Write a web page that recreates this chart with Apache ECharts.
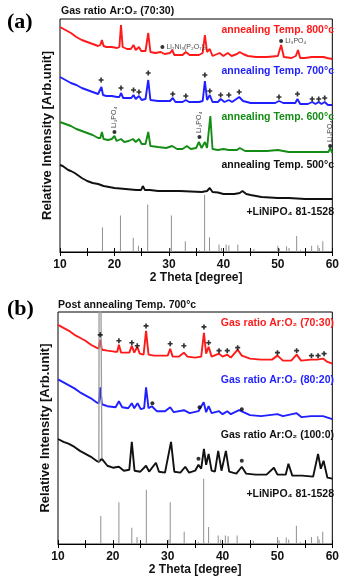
<!DOCTYPE html>
<html>
<head>
<meta charset="utf-8">
<script src="https://cdn.jsdelivr.net/npm/echarts@6/dist/echarts.min.js"></script>
<style>html,body{margin:0;padding:0;background:#fff}#chart{width:342px;height:577px}</style>
</head>
<body>
<div id="chart"></div>
<script>
;(function () {
  // ---- data: [2theta, intensity (arb.)] ----
  // panel (a): Ar:O2 70:30, annealing temperature series
  const red800 = [[10,225],[11,222],[12,219],[13,215],[14,212],[15,210],[16,208],[17,206],[17.4,207],[17.7,212],[18.0,206],[18.5,205],[19.5,205],[20.5,204],[20.9,205],[21.2,227],[21.5,205],[22.3,203],[23.0,203],[23.5,207],[23.9,202],[24.5,205],[24.9,201],[25.7,201],[26.2,219],[26.6,200],[27.5,199],[28.5,200],[28.8,202],[29.2,198],[30.2,199],[30.6,202],[31.0,197],[32.5,197],[33.1,200],[33.8,197],[35.5,197],[36.2,199],[36.6,217],[37.0,200],[37.5,203],[38.0,196],[39.3,199],[40.0,196],[40.8,199],[41.5,196],[42.5,198],[43.0,200],[43.6,198],[44.5,196],[46,195],[48,195],[50,196],[50.6,207],[51.1,195],[52.5,194],[53.3,196],[53.7,202],[54.1,194],[55,194],[56.2,195],[57.3,195],[58.4,195],[59,194],[60,193]]
  const blue700 = [[10,175],[11,172],[12,169],[13,167],[14,164],[15,162],[16,160],[17,158],[17.3,158],[17.6,165],[17.9,157],[18.5,156],[19.5,156],[20.5,155],[20.9,155],[21.2,159],[21.6,154],[22.6,154],[23.1,154],[23.5,157],[23.9,153],[24.5,156],[25,152],[25.7,153],[26.2,172],[26.6,152],[28,151],[29.5,151],[30.2,151],[30.7,154],[31.2,150],[32.5,150],[33.1,152],[33.7,150],[35.5,150],[36.2,151],[36.6,171],[37.0,152],[37.5,157],[38,150],[39.0,150],[39.5,153],[40.2,150],[41.0,152],[41.6,150],[42.9,155],[43.6,151],[45,149],[47,149],[49.5,149],[50.2,151],[51,149],[53.2,149],[53.6,153],[54.1,148],[55.5,148],[56.3,150],[56.9,148],[57.5,150],[58.0,148],[58.6,150],[59.2,147],[60,147]]
  const green600 = [[10,130],[11,128],[12,126],[13,123],[14,121],[15,119],[16,117],[17,114],[17.4,114],[17.7,120],[18.0,113],[18.8,112],[19.5,113],[20.0,116],[20.4,111],[21.2,113],[21.8,110],[22.6,111],[23.4,113],[23.9,110],[24.5,113],[25.0,108],[25.7,108],[26.2,120],[26.6,106],[28,105],[29.5,104],[30.6,106],[31.5,103],[32.5,103],[33.3,106],[34.0,103],[35.0,104],[35.5,110],[36.0,104],[36.6,110],[37.0,104],[37.6,136],[38.0,103],[39,102],[40,103],[41,102],[42.5,102],[43,104],[44,101],[46,101],[48,101],[50,102],[52,100],[54,100],[56,100],[58,100],[59.3,100],[59.6,104],[60,99]]
  const black500 = [[10,87],[10.5,86],[11,84],[11.5,82],[12,81],[12.3,82],[12.7,79],[13,77],[14,74],[15,71],[16,69],[17,68],[18,66],[19,65],[20,64],[22,63],[24,62],[24.9,62],[25.2,66],[25.6,62],[26.5,62],[28,61],[30,61],[32,61],[34,60.5],[36,60],[37.0,61],[37.5,64],[38.0,60],[39,59.5],[40,58],[42,58],[43.0,59],[43.5,61],[44.2,58],[45,57],[47,55],[50,54],[52,54],[55,53],[58,53],[60,53]]
  const plusA = [[17.55,172],[21.2,164],[23.5,162],[24.5,160],[26.2,179],[30.7,158],[33.1,156],[36.6,177],[37.5,161],[39.5,157],[41.0,157],[42.9,160],[50.2,155],[53.6,158],[56.3,153],[57.5,153],[58.6,154]]
  const dotsA = [[28.8,205],[50.6,211],[20.0,120],[35.6,115],[59.6,106]]
  const dotTextA = ['Li₂Ni₃(P₂O₇)₂', 'Li₃PO₄', 'Li₃PO₄', 'Li₃PO₄', 'Li₃PO₄']
  const dotVerticalA = [false, false, true, true, true]

  // panel (b): annealed at 700 C, gas ratio series
  const red7030 = [[10,221],[11,218],[12,215],[13,211],[14,208],[15,205],[16,201],[17,198],[17.4,197],[17.7,206],[18.0,196],[19,195],[20.3,194],[20.8,194],[21.1,201],[21.5,193],[22.5,193],[23.0,193],[23.45,200],[23.9,193],[24.45,199],[24.9,192],[25.6,191],[26.05,215],[26.5,191],[27.5,190],[29,190],[30.0,190],[30.45,197],[30.9,189],[32,189],[32.95,193],[33.6,189],[35,188],[36.1,189],[36.6,213],[37.0,192],[37.45,199],[38,189],[39.35,192],[40,189],[40.85,191],[41.5,188],[42.75,196],[43.5,190],[45,187],[47,186],[49,186],[50.0,190],[51,185],[52.5,185],[53.5,191],[54.3,185],[56.1,186],[57.2,186],[58.3,187],[59,184],[60,182]]
  const blue8020 = [[10,166],[11,163],[12,160],[13,157],[14,153],[15,150],[16,147],[17,143],[17.45,142],[17.7,158],[18.0,141],[19,139],[20.5,138],[21.1,144],[21.7,138],[22.8,137],[23.45,142],[23.9,137],[24.5,142],[25.1,136],[25.7,137],[26.05,158],[26.5,137],[27.1,139],[28,134],[29.5,134],[30.45,138],[31.1,133],[32.95,135],[34,132],[35.6,134],[36.55,143],[37.0,133],[37.45,139],[38,132],[39.35,134],[40,131],[40.85,134],[41.5,131],[43.0,135],[43.8,133],[45,130],[47,129],[50,131],[51,129],[53.5,132],[54.4,128],[56.1,129],[57.2,129],[58.3,129],[60,126]]
  const black1000 = [[10,106],[11,103],[12,101],[13,98],[14,94],[15,91],[16,88],[17,84],[17.45,83],[17.55,500],[17.85,500],[18.0,86],[19,79],[20,77],[21.1,78],[22,74],[23.0,75],[23.45,103],[23.95,74],[25,73],[26.05,79],[26.6,73],[27.85,82],[28.4,73],[29.5,72],[30.6,103],[31.2,73],[32.3,72],[33.2,78],[33.9,72],[35,74],[35.6,80],[36.1,76],[36.6,96],[37.0,80],[37.45,91],[38.0,74],[38.6,73],[39.2,94],[39.8,74],[40.6,94],[41.2,73],[42.5,71],[43.5,78],[44.3,71],[46,70],[48,70],[49.35,77],[50,70],[51.5,70],[52.0,81],[52.7,69],[54.5,69],[56.5,68],[57.4,91],[57.9,76],[58.4,84],[59.1,67],[60,66]]
  const plusB = [[17.7,211],[21.1,205],[23.45,203],[24.45,200],[26.05,220],[30.45,202],[32.95,200],[36.6,219],[37.45,203],[39.35,195],[40.85,195],[42.75,198],[50.0,193],[53.5,195],[56.2,190],[57.4,190],[58.5,192]]
  const dotsBlueB = [[27.2,142],[35.8,138],[43.5,136]]
  const dotsBlackB = [[35.6,86],[43.5,84]]

  // LiNiPO4 reference card 81-1528 (2theta, relative intensity)
  const refTheta = [17.8,21.1,23.45,24.4,26.1,30.2,30.45,33.0,35.6,36.55,37.45,39.2,39.65,40.5,41.0,42.65,45.6,50.0,50.3,51.6,52.05,53.45,54.15,56.2,57.35,57.6,58.25]
  const refInt = [43,64,25,11,83,7,64,19,3,100,26,13,7,13,12,13,5,11,6,10,7,28,3,11,12,7,19]

  const titleA = 'Gas ratio Ar:O₂ (70:30)'
  const titleB = 'Post annealing Temp. 700°c'
  const labelsA = ['annealing Temp. 800°c', 'annealing Temp. 700°c', 'annealing Temp. 600°c', 'annealing Temp. 500°c', '+LiNiPO₄ 81-1528']
  const labelsB = ['Gas ratio Ar:O₂ (70:30)', 'Gas ratio Ar:O₂ (80:20)', 'Gas ratio Ar:O₂ (100:0)', '+LiNiPO₄ 81-1528']

  // ---- style / layout ----
  const FONT = '"Liberation Sans", Arial, sans-serif'
  const RED = '#ff1a1a', BLUE = '#1f1fff', GREEN = '#158c15', BLACK = '#111'
  const colorsA = [RED, BLUE, GREEN, BLACK, BLACK], colorsB = [RED, BLUE, BLACK, BLACK]
  const labelYA = [30, 71, 117, 165, 212], labelYB = [323, 380, 435, 494]
  const PLUS = 'path://M2,0h2v2h2v2h-2v2h-2v-2h-2v-2h2z'
  // the saturated 17.6 deg reflection of the 100:0 film is drawn as a thin grey spike
  const SPIKE = [17.5, 17.9]

  const refData = refTheta.map((t, i) => [t, refInt[i]])
  const black1000Main = black1000.filter(d => d[0] < SPIKE[0] || d[0] > SPIKE[1])
  const black1000Spike = black1000.filter(d => d[0] >= SPIKE[0] - 0.1 && d[0] <= SPIKE[1] + 0.1)

  function bottomAxis(gi) {
    return {
      type: 'value', gridIndex: gi, position: 'bottom', min: 10, max: 60, interval: 10,
      axisLine: {show: true, lineStyle: {color: '#000', width: 1}},
      axisTick: {show: true, inside: true, length: 4, lineStyle: {color: '#000'}},
      minorTick: {show: true, splitNumber: 2, length: 4, lineStyle: {color: '#000'}},
      splitLine: {show: false},
      axisLabel: {color: '#111', fontFamily: FONT, fontWeight: 'bold', fontSize: 12, margin: 7},
      name: '2 Theta [degree]', nameLocation: 'middle', nameGap: 19,
      nameTextStyle: {color: '#111', fontFamily: FONT, fontWeight: 'bold', fontSize: 12},
    }
  }
  function topAxis(gi) {
    return {
      type: 'value', gridIndex: gi, position: 'top', min: 10, max: 60, interval: 10,
      axisLine: {show: false},
      axisTick: {show: true, inside: true, length: 4, lineStyle: {color: '#000'}},
      minorTick: {show: true, splitNumber: 2, length: 4, lineStyle: {color: '#000'}},
      splitLine: {show: false}, axisLabel: {show: false},
    }
  }
  function curveAxis(gi, max) {
    return {
      type: 'value', gridIndex: gi, min: 0, max,
      axisLine: {show: false}, axisTick: {show: false}, axisLabel: {show: false}, splitLine: {show: false},
      name: 'Relative Intensity [Arb.unit]', nameLocation: 'middle', nameGap: 6,
      nameTextStyle: {color: '#111', fontFamily: FONT, fontWeight: 'bold', fontSize: 13},
    }
  }
  function stickAxis(gi, max) {
    return {type: 'value', gridIndex: gi, min: 0, max, show: false}
  }
  function line(data, color, xi, yi, width) {
    return {type: 'line', xAxisIndex: xi, yAxisIndex: yi, data, symbol: 'none', clip: true,
      lineStyle: {color, width: width || 1.9}, itemStyle: {color}, z: 3}
  }
  function sticks(xi, yi) {
    return {type: 'bar', xAxisIndex: xi, yAxisIndex: yi, data: refData, barWidth: 1,
      itemStyle: {color: '#909090'}, z: 2}
  }
  function plus(data, xi, yi) {
    return {type: 'scatter', xAxisIndex: xi, yAxisIndex: yi, data, symbol: PLUS, symbolSize: 5,
      itemStyle: {color: '#000'}, z: 5}
  }
  function dots(data, xi, yi, texts, vertical) {
    return {
      type: 'scatter', xAxisIndex: xi, yAxisIndex: yi, symbol: 'circle', symbolSize: 4,
      itemStyle: {color: '#000'}, z: 5,
      data: data.map((d, i) => {
        if (!texts) return d
        const lbl = vertical[i]
          ? {show: true, formatter: texts[i], position: 'top', distance: 2, rotate: 90, align: 'left', verticalAlign: 'middle'}
          : {show: true, formatter: texts[i], position: 'right', distance: 2}
        return {value: d, label: Object.assign({color: '#111', fontFamily: FONT, fontSize: 7}, lbl)}
      }),
    }
  }
  function text(str, x, y, color, align, font) {
    return {type: 'text', x, y, z: 10,
      style: {text: str, fill: color, align, verticalAlign: 'middle', font: font || ('bold 10.5px ' + FONT)}}
  }

  const series = [
    sticks(0, 1),
    line(black500, BLACK, 0, 0), line(green600, GREEN, 0, 0), line(blue700, BLUE, 0, 0), line(red800, RED, 0, 0),
    plus(plusA, 0, 0), dots(dotsA, 0, 0, dotTextA, dotVerticalA),
    sticks(2, 3),
    line(black1000Main, BLACK, 2, 2), line(blue8020, BLUE, 2, 2), line(red7030, RED, 2, 2),
    plus(plusB, 2, 2), dots(dotsBlueB, 2, 2), dots(dotsBlackB, 2, 2),
    line(black1000Spike, '#9a9a9a', 2, 2, 1.3),
  ]

  const graphic = [
    text('(a)', 7, 22, '#000', 'left', 'bold 22px "Liberation Serif", "Times New Roman", serif'),
    text(titleA, 61, 11, '#111', 'left'),
    text('(b)', 7, 309, '#000', 'left', 'bold 22px "Liberation Serif", "Times New Roman", serif'),
    text(titleB, 58, 305, '#111', 'left'),
  ].concat(labelsA.map((s, i) => text(s, 334, labelYA[i], colorsA[i], 'right')))
    .concat(labelsB.map((s, i) => text(s, 334, labelYB[i], colorsB[i], 'right')))

  const option = {
    animation: false,
    backgroundColor: '#fff',
    grid: [
      {left: 60, right: 6, top: 19, height: 233, show: true, borderColor: '#000', borderWidth: 1, backgroundColor: 'transparent'},
      {left: 58, right: 5, top: 312, height: 234, show: true, borderColor: '#000', borderWidth: 1, backgroundColor: 'transparent'},
    ],
    xAxis: [bottomAxis(0), topAxis(0), bottomAxis(1), topAxis(1)],
    yAxis: [curveAxis(0, 233), stickAxis(0, 408), curveAxis(1, 234), stickAxis(1, 355)],
    series,
    graphic,
  }

  const chart = echarts.init(document.getElementById('chart'), null, {renderer: 'canvas'})
  chart.setOption(option)
})()
</script>
</body>
</html>
